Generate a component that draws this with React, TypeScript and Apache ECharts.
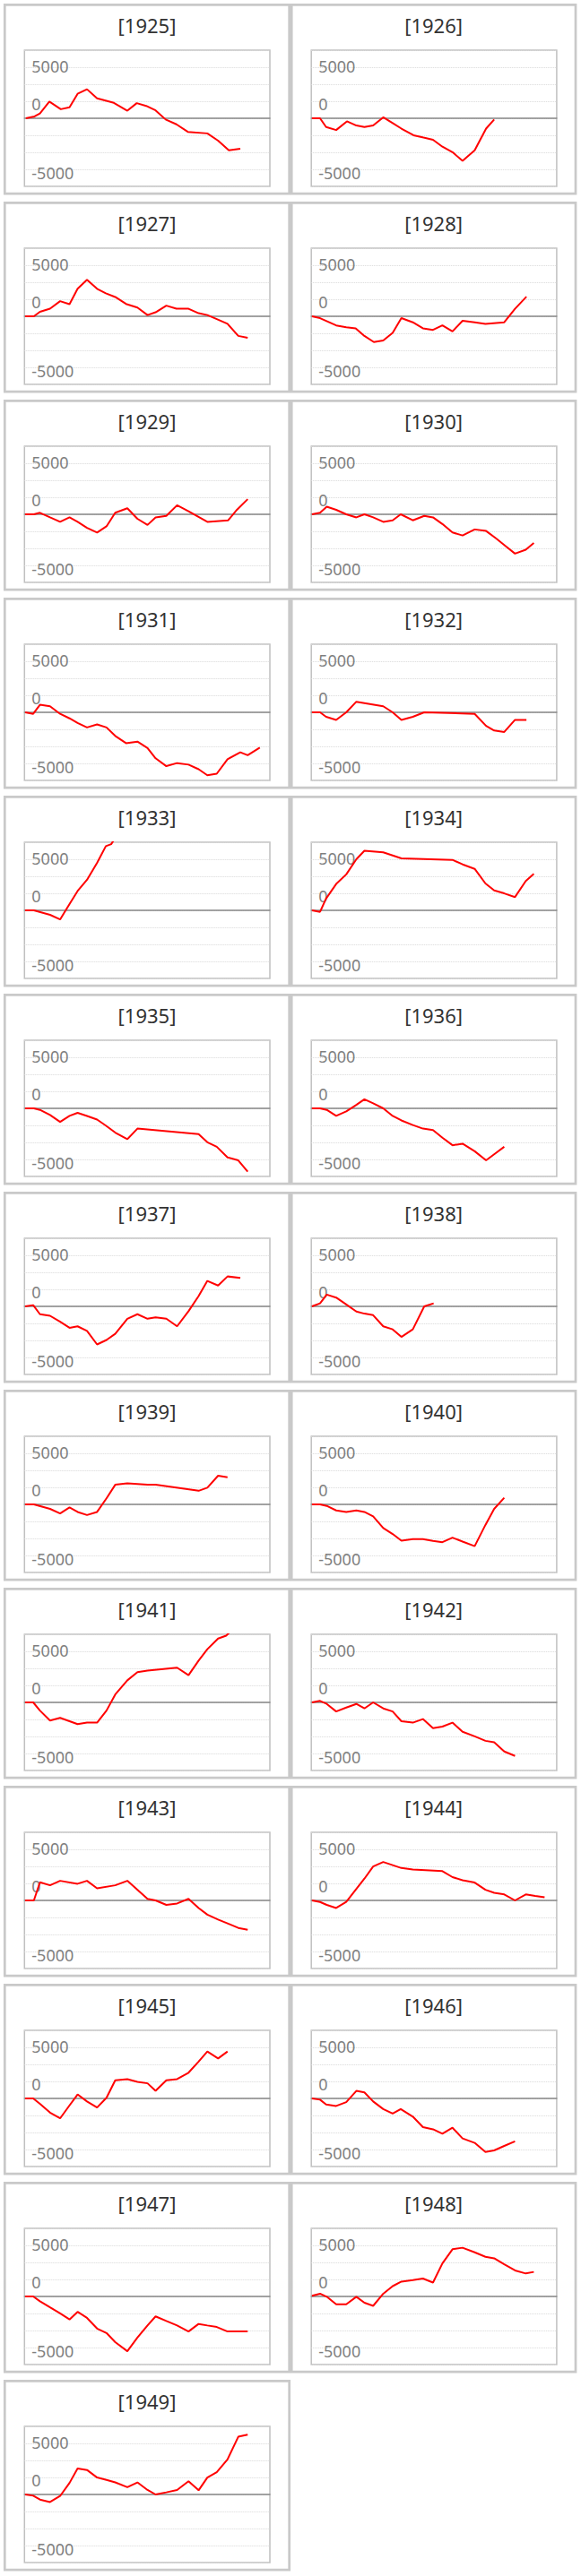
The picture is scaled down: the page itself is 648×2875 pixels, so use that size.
import React, { useEffect, useRef } from "react";
import * as echarts from "echarts";

// x = day of year, y = cumulative value
const YEARS = ["1925","1926","1927","1928","1929","1930","1931","1932","1933","1934","1935","1936","1937","1938","1939","1940","1941","1942","1943","1944","1945","1946","1947","1948","1949"];

const y1925 = [[2,0],[15,180],[23,470],[37,1630],[54,890],[67,1070],[79,2400],[93,2840],[108,1950],[133,1510],[153,740],[167,1480],[181,1210],[195,770],[210,-120],[226,-590],[243,-1330],[272,-1480],[288,-2190],[304,-3140],[321,-2990]];
const y1926 = [[1,0],[13,0],[22,-860],[37,-1150],[53,-300],[67,-710],[79,-860],[92,-710],[107,90],[121,-470],[134,-1010],[152,-1660],[167,-1890],[181,-2100],[195,-2780],[210,-3320],[225,-4170],[243,-3140],[260,-1010],[272,-120]];
const y1927 = [[1,0],[14,0],[23,440],[38,740],[53,1480],[67,1180],[79,2690],[93,3580],[108,2690],[121,2250],[135,1890],[151,1210],[168,860],[183,120],[195,390],[211,1040],[226,740],[244,740],[259,300],[272,120],[286,-270],[302,-740],[318,-1920],[332,-2100]];
const y1928 = [[1,0],[13,-180],[37,-890],[52,-1070],[66,-1180],[79,-1920],[93,-2520],[107,-2370],[121,-1630],[134,-180],[151,-590],[166,-1180],[181,-1330],[195,-890],[210,-1480],[225,-440],[243,-590],[259,-740],[287,-590],[303,740],[320,1920]];
const y1929 = [[1,0],[14,0],[23,150],[38,-300],[53,-740],[67,-300],[79,-740],[93,-1330],[108,-1780],[122,-1180],[135,150],[153,590],[168,-440],[183,-1040],[195,-300],[211,-150],[227,890],[244,300],[272,-740],[303,-590],[316,440],[332,1480]];
const y1930 = [[1,0],[13,150],[23,740],[37,440],[52,0],[67,-300],[79,0],[92,-300],[107,-740],[121,-590],[133,0],[151,-590],[168,-150],[181,-300],[195,-950],[210,-1780],[225,-2070],[243,-1480],[260,-1630],[275,-2370],[289,-3110],[303,-3850],[319,-3460],[331,-2810]];
const y1931 = [[1,0],[13,-150],[23,740],[38,590],[53,-150],[67,-590],[79,-1040],[93,-1480],[108,-1180],[122,-1480],[135,-2310],[151,-3020],[168,-2870],[183,-3490],[195,-4500],[211,-5270],[227,-4970],[244,-5120],[259,-5570],[272,-6160],[286,-6010],[302,-4590],[321,-3910],[332,-4200],[350,-3460]];
const y1932 = [[1,0],[13,0],[22,-440],[37,-740],[52,0],[67,1040],[107,590],[121,0],[134,-740],[151,-440],[168,0],[243,-150],[260,-1330],[272,-1780],[287,-1920],[303,-740],[320,-740]];
const y1933 = [[1,0],[14,0],[38,-440],[53,-890],[67,620],[79,1890],[93,2990],[108,4650],[121,6280],[129,6480],[140,7600]];
const y1934 = [[1,0],[13,-150],[22,1150],[37,2580],[52,3520],[67,5000],[79,5830],[107,5680],[134,5090],[210,4940],[225,4500],[243,4060],[259,2630],[272,1950],[287,1660],[303,1300],[319,2870],[331,3580]];
const y1935 = [[1,0],[14,0],[23,-150],[38,-650],[53,-1330],[67,-740],[79,-440],[93,-740],[108,-1100],[121,-1690],[135,-2370],[153,-3020],[168,-1980],[259,-2520],[272,-3320],[286,-3760],[302,-4800],[318,-5090],[332,-6190]];
const y1936 = [[1,0],[13,0],[23,-150],[37,-740],[52,-300],[66,300],[79,890],[92,500],[107,0],[121,-740],[134,-1180],[151,-1630],[166,-1980],[181,-2130],[195,-2870],[210,-3610],[225,-3460],[243,-4200],[260,-5090],[272,-4500],[287,-3760]];
const y1937 = [[1,0],[13,120],[23,-770],[38,-920],[53,-1510],[67,-2100],[79,-1950],[93,-2400],[108,-3730],[122,-3290],[135,-2690],[153,-1210],[168,-770],[183,-1210],[195,-1070],[211,-1210],[227,-1950],[244,-470],[259,1010],[272,2490],[288,2040],[302,2930],[321,2780]];
const y1938 = [[1,0],[13,300],[23,1150],[37,860],[52,180],[67,-500],[79,-710],[92,-860],[107,-1950],[121,-2250],[134,-2990],[151,-2250],[168,0],[182,300]];
const y1939 = [[1,0],[14,0],[38,-440],[53,-890],[67,-300],[79,-740],[93,-1040],[108,-740],[122,590],[135,1920],[153,2070],[183,1920],[195,1920],[259,1330],[272,1630],[288,2810],[302,2660]];
const y1940 = [[1,0],[13,0],[23,-150],[37,-590],[52,-740],[67,-590],[79,-740],[92,-1180],[107,-2310],[121,-2900],[134,-3550],[151,-3400],[166,-3400],[181,-3580],[195,-3700],[210,-3260],[225,-3640],[243,-4090],[259,-2010],[272,-440],[287,650]];
const y1941 = [[1,0],[13,0],[23,-800],[38,-1780],[53,-1510],[67,-1840],[79,-2130],[93,-1980],[108,-1980],[122,-800],[135,770],[153,2160],[168,2960],[183,3110],[227,3400],[244,2660],[259,4090],[272,5210],[288,6250],[300,6540],[314,7400]];
const y1942 = [[1,0],[13,150],[23,-150],[37,-890],[52,-500],[67,-150],[79,-590],[92,0],[107,-590],[121,-890],[134,-1840],[151,-1980],[166,-1630],[181,-2520],[195,-2370],[210,-1980],[225,-2870],[243,-3320],[259,-3760],[272,-3910],[287,-4800],[303,-5240]];
const y1943 = [[1,0],[14,0],[23,1780],[38,1480],[53,1920],[79,1630],[93,1920],[108,1180],[135,1480],[153,1920],[183,150],[195,0],[211,-440],[227,-300],[244,150],[259,-740],[272,-1390],[288,-1870],[302,-2250],[318,-2690],[332,-2870]];
const y1944 = [[1,0],[13,-150],[23,-440],[37,-740],[52,-150],[66,1040],[79,2130],[92,3320],[107,3760],[134,3170],[151,3020],[195,2870],[210,2280],[225,1980],[243,1750],[259,1040],[272,740],[287,590],[303,0],[319,590],[333,440],[347,300]];
const y1945 = [[1,0],[13,0],[23,-530],[38,-1390],[53,-1950],[67,-680],[79,390],[93,-300],[108,-890],[122,60],[135,1780],[153,1890],[168,1630],[183,1480],[195,740],[211,1780],[227,1890],[244,2520],[259,3610],[272,4590],[288,3910],[302,4590]];
const y1946 = [[1,0],[13,-120],[22,-590],[37,-740],[52,-360],[67,740],[79,590],[92,-300],[107,-1040],[121,-1480],[133,-1040],[151,-1780],[166,-2810],[181,-3020],[195,-3460],[210,-2870],[225,-3910],[243,-4350],[259,-5240],[272,-5090],[287,-4650],[303,-4200]];
const y1947 = [[1,0],[13,0],[23,-470],[38,-1070],[53,-1660],[67,-2250],[79,-1510],[93,-2100],[108,-3140],[122,-3580],[135,-4470],[153,-5360],[168,-4030],[183,-2840],[195,-1950],[211,-2400],[227,-2840],[244,-3430],[259,-2690],[272,-2840],[286,-2990],[302,-3430],[318,-3430],[332,-3430]];
const y1948 = [[1,60],[13,270],[23,-30],[37,-770],[52,-770],[67,-30],[79,-620],[92,-920],[107,270],[121,1010],[134,1450],[151,1600],[166,1750],[181,1360],[195,3230],[210,4620],[225,4770],[243,4320],[259,3880],[272,3730],[287,3140],[303,2550],[319,2250],[331,2400]];
const y1949 = [[1,0],[13,-120],[23,-500],[38,-740],[53,-150],[67,1130],[79,2550],[93,2400],[108,1660],[122,1420],[135,1180],[153,710],[168,1180],[183,440],[195,0],[211,210],[227,440],[244,1300],[259,410],[272,1660],[286,2190],[302,3430],[318,5650],[332,5860]];

const SERIES_DATA = [y1925,y1926,y1927,y1928,y1929,y1930,y1931,y1932,y1933,y1934,y1935,y1936,y1937,y1938,y1939,y1940,y1941,y1942,y1943,y1944,y1945,y1946,y1947,y1948,y1949];

const STEP = 5000 / 3;
const Y_TICK_VALUES = [5000, STEP, -5000];
const Y_TICK_LABELS = ["5000", "0", "-5000"];

export default function App() {
  const ref = useRef<HTMLDivElement>(null);
  useEffect(() => {
    document.body.style.margin = "0";
    const chart = echarts.init(ref.current as HTMLDivElement, null, { renderer: "svg" });
    const grids: any[] = [];
    const xAxes: any[] = [];
    const yAxes: any[] = [];
    const series: any[] = [];
    const graphics: any[] = [];
    const labelBase = { color: "#7f7f7f", fontSize: 18, fontFamily: "Noto Sans" };
    YEARS.forEach((yr, i) => {
      const col = i % 2;
      const row = Math.floor(i / 2);
      const panelLeft = col === 0 ? 5.3 : 325.2;
      const panelW = col === 0 ? 317.4 : 316.8;
      const off = 221 * row;
      graphics.push({
        type: "rect",
        silent: true,
        shape: { x: panelLeft, y: 5.3 + off, width: panelW, height: 210.9 },
        style: { fill: "none", stroke: "#c9c9c9", lineWidth: 2.7 },
      });
      graphics.push({
        type: "text",
        silent: true,
        x: panelLeft + panelW / 2,
        y: 27.8 + off,
        style: {
          text: `[${yr}]`,
          fill: "#333333",
          fontSize: 22,
          fontFamily: "Noto Sans",
          align: "center",
          verticalAlign: "middle",
        },
      });
      grids.push({
        left: panelLeft + 22,
        top: 56 + off,
        width: 273.7,
        height: 152,
        show: true,
        borderColor: "#c0c0c0",
        borderWidth: 1.5,
        backgroundColor: "transparent",
      });
      xAxes.push({
        type: "value",
        gridIndex: i,
        min: 0,
        max: 365,
        axisLine: { show: true, onZero: true, lineStyle: { color: "#878787", width: 1.5 } },
        axisTick: { show: false },
        axisLabel: { show: false },
        splitLine: { show: false },
      });
      yAxes.push({
        type: "value",
        gridIndex: i,
        min: -4 * STEP,
        max: 4 * STEP,
        interval: STEP,
        axisLine: { show: false },
        axisTick: { show: false },
        splitLine: { show: true, lineStyle: { color: "#d9d9d9", type: "dotted", width: 1 } },
        axisLabel: {
          inside: true,
          margin: 8,
          ...labelBase,
          formatter: (v: number) => {
            const k = Y_TICK_VALUES.findIndex((t) => Math.abs(t - v) < 1);
            return k >= 0 ? `{l${k}|${Y_TICK_LABELS[k]}}` : "";
          },
          rich: {
            l0: { ...labelBase, padding: [0, 0, 2, 0] },
            l1: { ...labelBase, padding: [5.4, 0, 0, 0] },
            l2: { ...labelBase, padding: [7, 0, 0, 0] },
          },
        },
      });
      series.push({
        type: "line",
        xAxisIndex: i,
        yAxisIndex: i,
        data: SERIES_DATA[i],
        symbol: "none",
        showSymbol: false,
        clip: true,
        silent: true,
        z: 3,
        lineStyle: { color: "#ff0000", width: 2 },
      });
    });
    chart.setOption({
      animation: false,
      backgroundColor: "#ffffff",
      grid: grids,
      xAxis: xAxes,
      yAxis: yAxes,
      series,
      graphic: graphics,
    });
    return () => chart.dispose();
  }, []);
  return <div ref={ref} style={{ width: 648, height: 2875 }} />;
}
